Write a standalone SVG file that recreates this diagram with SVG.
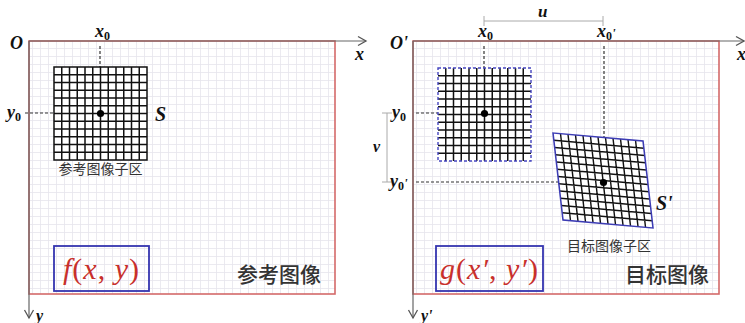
<svg xmlns="http://www.w3.org/2000/svg" xmlns:xlink="http://www.w3.org/1999/xlink" width="745" height="323" viewBox="0 0 745 323">
<style>
.lab{font-family:"Liberation Serif",serif;font-style:italic;font-weight:bold;fill:#111}
.sub{font-style:normal;font-size:12px}
.cn{font-family:"Noto Sans CJK SC","Liberation Sans",sans-serif;fill:#333}
.fn{font-family:"Liberation Serif","Times New Roman",serif;fill:#c8302c;font-size:30px;letter-spacing:1px}
.it{font-style:italic}
.frame{fill:url(#bg);stroke:#d46a6a;stroke-width:1.6}
.axis{stroke:#666;stroke-width:1.2;fill:none}
.dash{stroke:#333;stroke-width:1.2;stroke-dasharray:3 2;fill:none}
.dim{stroke:#aaa;stroke-width:1;fill:none}
.grid{stroke:#111;stroke-width:1.5;fill:none}
.box{fill:none;stroke:#3535b0;stroke-width:1.8}
</style>
<defs>
<pattern id="bg" width="8" height="8" patternUnits="userSpaceOnUse">
<rect width="8" height="8" fill="#fff"/>
<path d="M0 0.5H8M0.5 0V8" stroke="#e6e4ec" stroke-width="0.8"/>
</pattern>
<marker id="arr" markerWidth="12" markerHeight="12" refX="10" refY="6" orient="auto" markerUnits="userSpaceOnUse">
<path d="M2 1.5L10 6L2 10.5" fill="none" stroke="#555" stroke-width="1.3"/>
</marker>
<path id="gin" d="M7.75 0V93M15.5 0V93M23.25 0V93M31 0V93M38.75 0V93M46.5 0V93M54.25 0V93M62 0V93M69.75 0V93M77.5 0V93M85.25 0V93M0 7.75H93M0 15.5H93M0 23.25H93M0 31H93M0 38.75H93M0 46.5H93M0 54.25H93M0 62H93M0 69.75H93M0 77.5H93M0 85.25H93"/>
</defs>
<rect width="745" height="323" fill="#fff"/>

<g id="left-image">
<rect class="frame" x="29" y="41" width="306" height="253"/>
<text class="cn" x="237" y="282" font-size="21" font-weight="500" fill="#2a2a2a">参考图像</text>
</g>
<g id="right-image">
<rect class="frame" x="413" y="41" width="306" height="253"/>
<text class="cn" x="625" y="282" font-size="21" font-weight="500" fill="#2a2a2a">目标图像</text>
</g>

<g id="connectors">
<line class="axis" x1="29" y1="41" x2="366" y2="41" marker-end="url(#arr)"/>
<line class="axis" x1="29" y1="41" x2="29" y2="318" marker-end="url(#arr)"/>
<line class="axis" x1="413" y1="41" x2="744" y2="41" marker-end="url(#arr)"/>
<line class="axis" x1="413" y1="41" x2="413" y2="318" marker-end="url(#arr)"/>
<path class="dash" d="M100 46V67M25 113H54"/>
<path class="dash" d="M484 46V68M416 113H438M416 182H603M604 46V182"/>
<path class="dim" d="M484 21H603M484 16V26M603 16V26"/>
<path class="dim" d="M387 113V182M382 113H392M382 182H392"/>
</g>

<g id="ref-subset">
<rect x="54" y="67" width="93" height="93" fill="#fff"/>
<use xlink:href="#gin" class="grid" transform="translate(54 67)"/>
<rect x="54" y="67" width="93" height="93" class="grid"/>
<circle cx="100.5" cy="113.5" r="3.6" fill="#000"/>
<text class="cn" x="100.5" y="174" font-size="14" text-anchor="middle">参考图像子区</text>
</g>

<g id="tgt-orig-subset">
<rect x="438" y="68" width="93" height="93" fill="#fff"/>
<use xlink:href="#gin" class="grid" transform="translate(438 68)"/>
<rect x="438" y="68" width="93" height="93" fill="none" stroke="#4545c0" stroke-width="1.4" stroke-dasharray="3 2"/>
<circle cx="484.5" cy="113.5" r="3.6" fill="#000"/>
</g>

<g id="tgt-subset">
<g transform="matrix(0.968 0.086 0.1075 0.935 553 133)">
<rect width="93" height="93" fill="#fff"/>
<use xlink:href="#gin" class="grid"/>
<rect width="93" height="93" fill="none" stroke="#3c3cb4" stroke-width="1.6"/>
</g>
<circle cx="603.5" cy="182.5" r="3.6" fill="#000"/>
<text class="cn" x="609" y="251" font-size="14" text-anchor="middle">目标图像子区</text>
</g>

<g id="f-box">
<rect class="box" x="54" y="246" width="95" height="45"/>
<text class="fn" x="101.5" y="279" text-anchor="middle"><tspan class="it">f</tspan>(<tspan class="it">x</tspan>, <tspan class="it">y</tspan>)</text>
</g>
<g id="g-box">
<rect class="box" x="436" y="246" width="107" height="45"/>
<text class="fn" x="489.5" y="279" text-anchor="middle"><tspan class="it">g</tspan>(<tspan class="it">x′</tspan>, <tspan class="it">y′</tspan>)</text>
</g>

<g id="labels">
<text class="lab" x="10" y="49" font-size="18">O</text>
<text class="lab" x="95" y="37" font-size="18">x<tspan class="sub" dy="3">0</tspan></text>
<text class="lab" x="7" y="118" font-size="18">y<tspan class="sub" dy="3">0</tspan></text>
<text class="lab" x="155" y="121" font-size="20">S</text>
<text class="lab" x="355" y="60" font-size="18">x</text>
<text class="lab" x="36" y="321" font-size="16">y</text>
<text class="lab" x="390" y="49" font-size="18">O'</text>
<text class="lab" x="478" y="37" font-size="18">x<tspan class="sub" dy="3">0</tspan></text>
<text class="lab" x="597" y="37" font-size="18">x<tspan class="sub" dy="3">0</tspan><tspan dy="-3" font-size="13">'</tspan></text>
<text class="lab" x="538" y="17" font-size="17">u</text>
<text class="lab" x="392" y="118" font-size="18">y<tspan class="sub" dy="3">0</tspan></text>
<text class="lab" x="390" y="187" font-size="18">y<tspan class="sub" dy="3">0</tspan><tspan dy="-3" font-size="13">'</tspan></text>
<text class="lab" x="373" y="152" font-size="16">v</text>
<text class="lab" x="656" y="210" font-size="20">S'</text>
<text class="lab" x="737" y="60" font-size="18">x</text>
<text class="lab" x="421" y="321" font-size="16">y'</text>
</g>
</svg>
